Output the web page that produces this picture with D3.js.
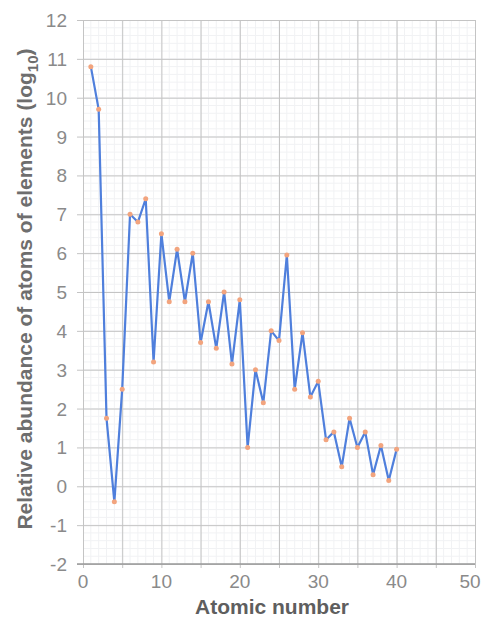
<!DOCTYPE html>
<head>
    <meta charset="utf-8">
    <title>Relative abundance of elements</title>
    <style>
        body { margin: 0; background: #fff; }
        text { font-family: "Liberation Sans", Arial, sans-serif; }
    </style>
</head>
<body>

<svg width="484" height="621"></svg>

<script src="https://d3js.org/d3.v7.min.js"></script>

<script>
    // data: atomic number vs log10 abundance
    var atomicNumber = d3.range(1, 41);
    var abundance = [10.8, 9.7, 1.75, -0.4, 2.5, 7.0, 6.8, 7.4, 3.2, 6.5,
                     4.75, 6.1, 4.75, 6.0, 3.7, 4.75, 3.55, 5.0, 3.15, 4.8,
                     1.0, 3.0, 2.15, 4.0, 3.75, 5.95, 2.5, 3.95, 2.3, 2.7,
                     1.2, 1.4, 0.5, 1.75, 1.0, 1.4, 0.3, 1.05, 0.15, 0.95];
    var xTicks = [0, 10, 20, 30, 40, 50];
    var yTicks = d3.range(-2, 13);

    var svg = d3.select("svg");

    var x = d3.scaleLinear().domain([0, 50]).range([83, 475]);
    var y = d3.scaleLinear().domain([-2, 12]).range([564, 20]);

    var points = atomicNumber.map(function(d, i) { return {z: d, v: abundance[i]}; });

    // faint graph paper
    var minor = svg.append("g").attr("class", "minor");
    minor.selectAll("line.mx")
        .data(d3.range(1, 50))
        .enter().append("line")
            .attr("x1", function(d) { return x(d); })
            .attr("x2", function(d) { return x(d); })
            .attr("y1", y(12)).attr("y2", y(-2))
            .attr("stroke", "#f1f2f4").attr("stroke-width", 1);
    minor.selectAll("line.my")
        .data(d3.range(-2, 12, 0.2))
        .enter().append("line")
            .attr("y1", function(d) { return y(d); })
            .attr("y2", function(d) { return y(d); })
            .attr("x1", x(0)).attr("x2", x(50))
            .attr("stroke", "#f1f2f4").attr("stroke-width", 1);

    // major grid via axes
    svg.append("g")
        .attr("transform", "translate(" + x(0) + ",0)")
        .call(d3.axisLeft(y).tickValues(yTicks).tickSizeInner(-(x(50) - x(0)) ).tickSizeOuter(0).tickFormat(""))
        .call(function(g) {
            g.select(".domain").remove();
            g.selectAll("line").attr("stroke", "#c4c4c4").attr("x1", -6);
        });

    svg.append("g")
        .attr("transform", "translate(0," + y(-2) + ")")
        .call(d3.axisBottom(x).tickValues(d3.range(0, 51, 5)).tickSizeInner(-(y(-2) - y(12))).tickSizeOuter(0).tickFormat(""))
        .call(function(g) {
            g.select(".domain").remove();
            g.selectAll("line").attr("stroke", "#c4c4c4").attr("y1", 4);
        });

    // bottom axis line
    svg.append("line")
        .attr("x1", x(0) - 6).attr("x2", x(50))
        .attr("y1", y(-2)).attr("y2", y(-2))
        .attr("stroke", "#9a9a9a").attr("stroke-width", 1.5);

    // tick labels
    svg.append("g").selectAll("text")
        .data(yTicks)
        .enter().append("text")
            .attr("x", 67)
            .attr("y", function(d) { return y(d) + 7; })
            .attr("text-anchor", "end")
            .attr("font-size", 19)
            .attr("fill", "#8a8a8a")
            .text(function(d) { return d; });

    svg.append("g").selectAll("text")
        .data(xTicks)
        .enter().append("text")
            .attr("x", function(d) { return Math.min(x(d), 470); })
            .attr("y", 588)
            .attr("text-anchor", "middle")
            .attr("font-size", 19)
            .attr("fill", "#8a8a8a")
            .text(function(d) { return d; });

    // line + markers
    var line = d3.line()
        .x(function(d) { return x(d.z); })
        .y(function(d) { return y(d.v); });

    svg.append("path")
        .datum(points)
        .attr("d", line)
        .attr("fill", "none")
        .attr("stroke", "#4f7fdc")
        .attr("stroke-width", 2.2)
        .attr("stroke-linejoin", "round");

    svg.append("g").selectAll("circle")
        .data(points)
        .enter().append("circle")
            .attr("cx", function(d) { return x(d.z); })
            .attr("cy", function(d) { return y(d.v); })
            .attr("r", 2.5)
            .attr("fill", "#f2a47e");

    // axis titles
    svg.append("text")
        .attr("x", 272)
        .attr("y", 614)
        .attr("text-anchor", "middle")
        .attr("font-size", 21)
        .attr("font-weight", "bold")
        .attr("fill", "#5e5e5e")
        .text("Atomic number");

    var yt = svg.append("text")
        .attr("transform", "translate(32,289) rotate(-90)")
        .attr("text-anchor", "middle")
        .attr("font-size", 21)
        .attr("font-weight", "bold")
        .attr("fill", "#6e6e6e");
    yt.append("tspan").text("Relative abundance of atoms of elements (log");
    yt.append("tspan").attr("font-size", 15).attr("dy", 6).text("10");
    yt.append("tspan").attr("dy", -6).text(")");
</script>

</body>
